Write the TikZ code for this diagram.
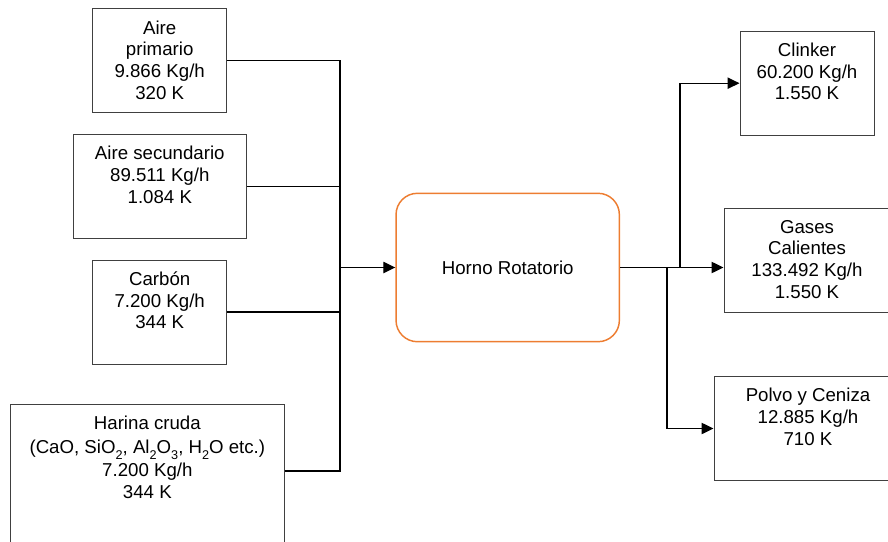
\documentclass[tikz,border=0pt]{standalone}
\usepackage{fontspec}
\setmainfont{Liberation Sans}
\usetikzlibrary{arrows.meta}
\definecolor{ovenorange}{HTML}{ED7D31}
\newcommand\sbs[1]{\raisebox{-4pt}{\fontsize{9.5}{9.5}\selectfont #1}}
\begin{document}
\begin{tikzpicture}[x=0.75pt,y=-0.75pt,
  box/.style={draw=black!75, line width=0.75pt, rectangle, inner sep=0pt, minimum height=78pt},
  lbl/.style={anchor=north, inner sep=0pt, align=center, font=\fontsize{14}{16.3}\selectfont, yshift=-9pt},
  conn/.style={draw=black, line width=0.85pt},
  arr/.style={draw=black, line width=1pt, -{Triangle[length=9pt,width=8.5pt]}},
  oven/.style={draw=ovenorange, line width=1.1pt, rounded corners=16pt, rectangle,
    minimum width=167.5pt, minimum height=111.3pt, inner sep=0pt, font=\fontsize{14}{16.3}\selectfont}
  ]
\useasboundingbox (0,0) rectangle (888,542);
\clip (0,0) rectangle (888,542);

% inputs
\node[box, minimum width=100.5pt, label={[lbl]north:{Aire\\primario\\9.866 Kg/h\\320 K}}] (b1) at (159.7,60.85) {};
\node[box, minimum width=129.75pt, label={[lbl]north:{Aire secundario\\89.511 Kg/h\\1.084 K}}] (b2) at (159.8,186.5) {};
\node[box, minimum width=100.5pt, label={[lbl]north:{Carbón\\7.200 Kg/h\\344 K}}] (b3) at (159.7,312) {};
\node[box, minimum width=205pt, minimum height=112.5pt, label={[lbl]north:{Harina cruda\\[2pt](CaO, SiO\sbs{2}, Al\sbs{2}O\sbs{3}, H\sbs{2}O etc.)\\[1pt]7.200 Kg/h\\344 K}}] (b4) at (147.35,479) {};

% oven
\node[oven] (h) at (507.7,267.5) {Horno Rotatorio};

% outputs
\node[box, minimum width=100.5pt, label={[lbl]north:{Clinker\\60.200 Kg/h\\1.550 K}}] (c1) at (807,83.2) {};
\node[box, minimum width=124.5pt, label={[lbl]north:{Gases\\Calientes\\133.492 Kg/h\\1.550 K}}] (c2) at (807,260.3) {};
\node[box, minimum width=141pt, label={[lbl]north:{Polvo y Ceniza\\12.885 Kg/h\\710 K}}] (c3) at (808,428.5) {};

% input connectors
\coordinate (jin) at (340,267.5);
\coordinate (b4o) at ([yshift=6pt]b4.east);
\draw[conn] (b1.east) -| (jin);
\draw[conn] (b2.east) -| (jin);
\draw[conn] (b3.east) -| (jin);
\draw[conn] (b4o) -| (jin);
\draw[arr] (jin) -- (h.west);

% output connectors
\coordinate (jc) at (680,267.5);
\coordinate (jp) at (667,267.5);
\draw[arr] (h.east) -- (jc) |- (c1.west);
\draw[arr] (h.east) -- (c2.west |- h.east);
\draw[arr] (h.east) -- (jp) |- (c3.west);
\end{tikzpicture}
\end{document}
